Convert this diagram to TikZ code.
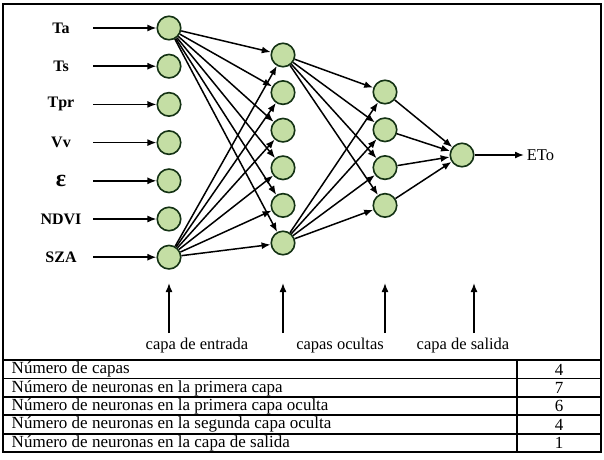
\documentclass[tikz,border=0pt]{standalone}
\usepackage{fontspec}
\setmainfont{Liberation Serif}
\usepackage{xcolor}
\usetikzlibrary{arrows.meta}

\definecolor{neurongreen}{RGB}{196,222,164}
\definecolor{neuronrim}{RGB}{20,50,20}
\tikzset{
    neuron/.style={circle, draw=neuronrim, line width=1.6pt, fill=neurongreen,
        minimum size=23.5pt, inner sep=0pt},
    lbl/.style={font=\fontsize{16.5}{19}\selectfont, inner sep=2pt},
    cell/.style={font=\fontsize{17}{19}\selectfont, inner sep=2pt},
    rule/.style={line width=1.8pt},
}

\begin{document}
\begin{tikzpicture}[x=1pt, y=-1pt, >={Latex[length=9pt,width=7pt]}, line width=1.5pt]
    \useasboundingbox (0,0) rectangle (604,459);
    \draw[rule] (3,4) rectangle (601,452);
    % input layer
    \foreach \lab [count=\i] in {Ta,Ts,Tpr,Vv,{\fontsize{24}{24}\selectfont ε},NDVI,SZA} {
        \node[neuron] (in\i) at (169,{28+38.2*(\i-1)}) {};
        \node[lbl, font=\fontsize{16}{18}\selectfont\bfseries] (x\i) at (61,{28+38.2*(\i-1)}) {\lab};
        \coordinate (s\i) at (93,{28+38.2*(\i-1)});
        \draw[->] (s\i) -- (in\i);
    }
    % hidden layers
    \foreach \i in {1,...,6}
        \node[neuron] (ha\i) at (283,{55+37.6*(\i-1)}) {};
    \foreach \i in {1,...,4}
        \node[neuron] (hb\i) at (385,{92+37.8*(\i-1)}) {};
    % output
    \node[neuron] (out) at (462,155) {};
    \coordinate (eto) at (524,155);
    \node[lbl, anchor=west] (etolab) at (eto) {ETo};
    % weights
    \foreach \j in {1,...,6} {
        \draw[->] (in1) -- (ha\j);
        \draw[->] (in7) -- (ha\j);
    }
    \foreach \j in {1,...,4} {
        \draw[->] (ha1) -- (hb\j);
        \draw[->] (ha6) -- (hb\j);
        \draw[->] (hb\j) -- (out);
    }
    \draw[->] (out) -- (eto);
    % layer names
    \foreach \x [count=\k] in {169,283,385,474} {
        \coordinate (b\k) at (\x,333);
        \coordinate (t\k) at (\x,283);
        \draw[->] (b\k) -- (t\k);
    }
    \node[lbl] (cin) at (197,346) {capa de entrada};
    \node[lbl] (coc) at (340,346) {capas ocultas};
    \node[lbl] (csa) at (463,346) {capa de salida};
    % table
    \draw[rule] (3,360) rectangle (601,452);
    \foreach \k in {1,...,4}
        \draw[rule] (3,{360+18.4*\k}) -- (601,{360+18.4*\k});
    \draw[rule] (517,360) -- (517,452);
    \foreach \t/\v [count=\k] in {Número de capas/4,
            Número de neuronas en la primera capa/7,
            Número de neuronas en la primera capa oculta/6,
            Número de neuronas en la segunda capa oculta/4,
            Número de neuronas en la capa de salida/1} {
        \node[cell, anchor=west] (r\k) at (9,{351.2+18.4*\k}) {\t};
        \node[cell] (v\k) at (559,{351.2+18.4*\k}) {\v};
    }
\end{tikzpicture}
\end{document}
